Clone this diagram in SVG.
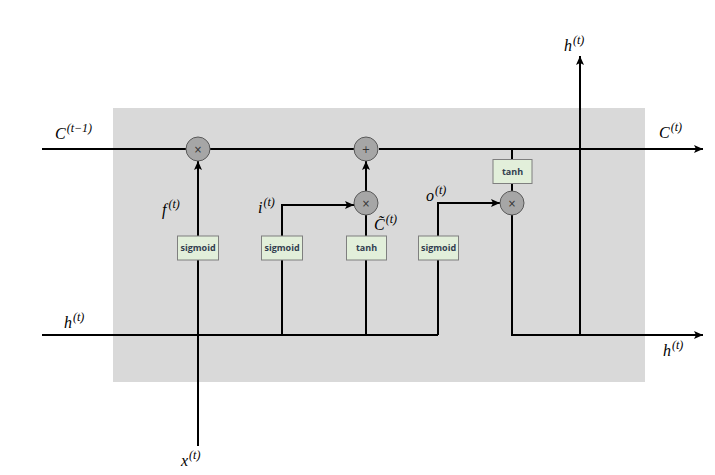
<svg xmlns="http://www.w3.org/2000/svg" width="715" height="475" viewBox="0 0 715 475">
<defs>
<marker id="ah" markerWidth="9" markerHeight="8" refX="9" refY="4" orient="auto" markerUnits="userSpaceOnUse">
<path d="M0,0 L9,4 L0,8 L2,4 Z" fill="#000"/>
</marker>
<style>
.ln{stroke:#000;stroke-width:2;fill:none}
.op{fill:#a6a6a6;stroke:#595959;stroke-width:1}
.opt{font-family:"DejaVu Sans",sans-serif;font-size:10px;fill:#333;text-anchor:middle}
.bx{fill:#e2efda;stroke:#7f7f7f;stroke-width:1}
.bt{font-family:"Open Sans","DejaVu Sans",sans-serif;font-weight:bold;font-size:9px;fill:#323e4f;text-anchor:middle}
.lb{font-family:"Liberation Serif","DejaVu Serif",serif;font-style:italic;font-size:16px;fill:#000}
.sp{font-size:12px}
</style>
</defs>
<rect x="113" y="108" width="532" height="274" fill="#d9d9d9"/>
<g id="connectors">
<line class="ln" x1="42" y1="149" x2="186" y2="149"/>
<line class="ln" x1="210" y1="149" x2="355" y2="149"/>
<line class="ln" x1="379" y1="149" x2="703" y2="149" marker-end="url(#ah)"/>
<line class="ln" x1="198" y1="236" x2="198" y2="161" marker-end="url(#ah)"/>
<line class="ln" x1="198" y1="260" x2="198" y2="446"/>
<line class="ln" x1="42" y1="335" x2="438" y2="335"/>
<polyline class="ln" points="282,335 282,205 354,205" marker-end="url(#ah)"/>
<line class="ln" x1="366" y1="335" x2="366" y2="259"/>
<line class="ln" x1="366" y1="236" x2="366" y2="215"/>
<line class="ln" x1="366" y1="191" x2="366" y2="161" marker-end="url(#ah)"/>
<polyline class="ln" points="438,335 438,259"/>
<polyline class="ln" points="438,236 438,203 500,203" marker-end="url(#ah)"/>
<line class="ln" x1="512" y1="149" x2="512" y2="159"/>
<line class="ln" x1="512" y1="183" x2="512" y2="191"/>
<polyline class="ln" points="512,215 512,335 703,335" marker-end="url(#ah)"/>
<line class="ln" x1="580" y1="335" x2="580" y2="56" marker-end="url(#ah)"/>
</g>
<g id="mul1"><circle class="op" cx="198" cy="149" r="12"/><text class="opt" x="198" y="153">×</text></g>
<g id="plus"><circle class="op" cx="366" cy="149" r="12"/><text class="opt" x="366" y="153">+</text></g>
<g id="mul2"><circle class="op" cx="366" cy="203" r="12"/><text class="opt" x="366" y="207">×</text></g>
<g id="mul3"><circle class="op" cx="512" cy="203" r="12"/><text class="opt" x="512" y="207">×</text></g>
<g id="sig1"><rect class="bx" x="177.5" y="236" width="41" height="24"/><text class="bt" x="198" y="251">sigmoid</text></g>
<g id="sig2"><rect class="bx" x="261.5" y="236" width="41" height="24"/><text class="bt" x="282" y="251">sigmoid</text></g>
<g id="tanh1"><rect class="bx" x="346.5" y="236" width="40" height="24"/><text class="bt" x="366.5" y="251">tanh</text></g>
<g id="sig3"><rect class="bx" x="418.5" y="236" width="40" height="24"/><text class="bt" x="438.5" y="251">sigmoid</text></g>
<g id="tanh2"><rect class="bx" x="493" y="159.5" width="39" height="24"/><text class="bt" x="512.5" y="174.5">tanh</text></g>
<g id="labels">
<text class="lb" x="55" y="139">C<tspan class="sp" dx="1" dy="-7">(t−1)</tspan></text>
<text class="lb" x="162" y="215">f<tspan class="sp" dx="2" dy="-7">(t)</tspan></text>
<text class="lb" x="258" y="213">i<tspan class="sp" dx="1" dy="-7">(t)</tspan></text>
<text class="lb" x="374" y="230">C̃<tspan class="sp" dx="1" dy="-7">(t)</tspan></text>
<text class="lb" x="426" y="201">o<tspan class="sp" dx="1" dy="-7">(t)</tspan></text>
<text class="lb" x="564" y="51">h<tspan class="sp" dx="1" dy="-7">(t)</tspan></text>
<text class="lb" x="659" y="138">C<tspan class="sp" dx="1" dy="-7">(t)</tspan></text>
<text class="lb" x="64" y="328">h<tspan class="sp" dx="1" dy="-7">(t)</tspan></text>
<text class="lb" x="663" y="356">h<tspan class="sp" dx="1" dy="-7">(t)</tspan></text>
<text class="lb" x="181" y="466">x<tspan class="sp" dx="1" dy="-7">(t)</tspan></text>
</g>
</svg>
